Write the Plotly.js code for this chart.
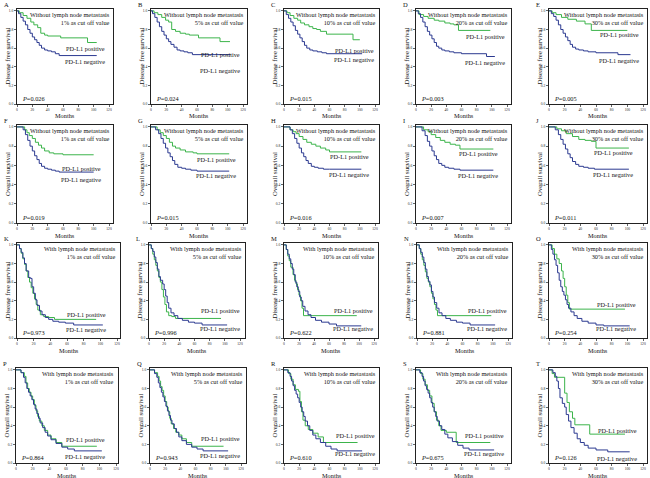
<!DOCTYPE html>
<html>
<head>
<meta charset="utf-8">
<script src="https://cdn.plot.ly/plotly-3.0.1.min.js"></script>
<style>html,body{margin:0;padding:0;background:#fff;}#chart{width:650px;height:478px;}</style>
</head>
<body>
<div id="chart"></div>
<script>
// ---------------- DATA ----------------
const letters = ['A','B','C','D','E','F','G','H','I','J','K','L','M','N','O','P','Q','R','S','T'];
const cutoffs = ['1%','5%','10%','20%','30%'];
const groupLabels = ['Without lymph node metastasis','Without lymph node metastasis','With lymph node metastasis','With lymph node metastasis'];
const yTitles = ['Disease free survival','Overall survival','Disease free survival','Overall survival'];
const xTitle = 'Months';
const pValues = ['0.026','0.024','0.015','0.003','0.005','0.019','0.015','0.016','0.007','0.011','0.973','0.996','0.622','0.881','0.254','0.864','0.943','0.610','0.675','0.126'];
const posLabel = 'PD-L1 positive';
const negLabel = 'PD-L1 negative';
const posLabelY = [0.60,0.53,0.57,0.73,0.75, 0.57,0.66,0.69,0.72,0.73, 0.25,0.29,0.30,0.30,0.36, 0.25,0.26,0.30,0.30,0.35];
const negLabelY = [0.46,0.36,0.48,0.45,0.47, 0.45,0.49,0.50,0.49,0.50, 0.09,0.10,0.10,0.10,0.10, 0.065,0.08,0.10,0.10,0.05];
const xTicks = [0,20,40,60,80,100,120];
const yTicks = [0,0.2,0.4,0.6,0.8,1.0];

// Row 1: disease free survival, without lymph node metastasis
const A_pos_t = [0,3,8,13,18,22,27,31,36,40,57,92,104];
const A_pos_s = [1,0.98,0.95,0.92,0.88,0.85,0.82,0.76,0.74,0.73,0.71,0.66,0.66];
const A_neg_t = [0,2,5,8,11,14,17,20,23,26,29,32,36,40,45,50,55,104];
const A_neg_s = [1,0.97,0.93,0.89,0.85,0.80,0.76,0.72,0.69,0.66,0.63,0.60,0.58,0.57,0.56,0.54,0.52,0.52];
const B_pos_t = [0,4,9,14,19,23,27,32,38,45,50,62,90,103];
const B_pos_s = [1,0.98,0.96,0.93,0.90,0.88,0.80,0.78,0.76,0.75,0.74,0.71,0.67,0.67];
const B_neg_t = [0,2,5,8,11,14,17,20,23,26,30,34,38,43,48,54,104];
const B_neg_s = [1,0.97,0.93,0.88,0.83,0.78,0.74,0.70,0.67,0.64,0.61,0.58,0.57,0.56,0.55,0.53,0.53];
const C_pos_t = [0,4,8,13,18,22,27,33,38,43,48,56,91,100];
const C_pos_s = [1,0.98,0.95,0.92,0.90,0.87,0.85,0.83,0.81,0.80,0.78,0.75,0.69,0.69];
const C_neg_t = [0,3,6,9,12,15,18,21,24,27,30,34,38,44,50,56,103];
const C_neg_s = [1,0.96,0.92,0.88,0.84,0.79,0.75,0.71,0.67,0.63,0.60,0.58,0.57,0.56,0.55,0.54,0.54];
const D_pos_t = [0,4,10,16,24,30,38,45,50,56,98];
const D_pos_s = [1,0.96,0.94,0.92,0.90,0.89,0.87,0.86,0.85,0.79,0.79];
const D_neg_t = [0,3,6,9,12,15,18,21,24,27,30,34,38,44,50,60,93,104];
const D_neg_s = [1,0.97,0.93,0.88,0.83,0.78,0.74,0.70,0.66,0.62,0.60,0.58,0.57,0.56,0.55,0.54,0.51,0.51];
const E_pos_t = [0,4,9,16,24,35,46,54,100];
const E_pos_s = [1,0.98,0.96,0.93,0.91,0.89,0.86,0.79,0.79];
const E_neg_t = [0,3,6,9,12,15,18,21,24,27,30,34,38,44,50,60,88,104];
const E_neg_s = [1,0.97,0.94,0.90,0.85,0.80,0.76,0.72,0.68,0.64,0.61,0.59,0.58,0.57,0.56,0.55,0.53,0.53];

// Row 2: overall survival, without lymph node metastasis
const F_pos_t = [0,10,13,16,20,24,28,32,36,42,48,60,100];
const F_pos_s = [1,0.97,0.94,0.91,0.88,0.84,0.81,0.78,0.75,0.73,0.72,0.71,0.71];
const F_neg_t = [0,8,11,14,17,20,23,26,29,32,36,40,45,50,55,100];
const F_neg_s = [1,0.97,0.92,0.86,0.80,0.75,0.70,0.66,0.62,0.59,0.57,0.56,0.55,0.54,0.53,0.53];
const G_pos_t = [0,8,12,16,20,24,28,32,38,45,55,60,102];
const G_pos_s = [1,0.97,0.94,0.91,0.88,0.84,0.80,0.78,0.76,0.74,0.73,0.72,0.72];
const G_neg_t = [0,6,10,13,16,19,22,25,28,31,35,40,45,52,60,102];
const G_neg_s = [1,0.97,0.93,0.88,0.83,0.78,0.73,0.69,0.65,0.61,0.58,0.57,0.56,0.55,0.54,0.54];
const H_pos_t = [0,8,12,16,20,25,30,36,42,48,55,60,102];
const H_pos_s = [1,0.97,0.95,0.93,0.90,0.87,0.84,0.82,0.80,0.78,0.76,0.74,0.74];
const H_neg_t = [0,8,11,14,17,20,23,26,29,32,36,40,45,52,60,102];
const H_neg_s = [1,0.97,0.93,0.88,0.83,0.78,0.73,0.69,0.65,0.62,0.59,0.58,0.57,0.56,0.56,0.56];
const I_pos_t = [0,10,16,20,26,32,38,45,52,58,102];
const I_pos_s = [1,0.97,0.95,0.92,0.89,0.86,0.84,0.82,0.81,0.77,0.77];
const I_neg_t = [0,8,12,15,18,21,24,27,30,34,38,43,50,58,102];
const I_neg_s = [1,0.96,0.91,0.85,0.80,0.75,0.70,0.66,0.62,0.60,0.58,0.57,0.56,0.55,0.55];
const J_pos_t = [0,10,16,22,30,38,46,54,60,102];
const J_pos_s = [1,0.98,0.96,0.93,0.90,0.87,0.86,0.85,0.78,0.78];
const J_neg_t = [0,8,12,15,18,21,24,27,30,34,38,44,50,58,102];
const J_neg_s = [1,0.97,0.92,0.87,0.82,0.77,0.72,0.68,0.64,0.61,0.59,0.58,0.57,0.56,0.56];

// Row 3: disease free survival, with lymph node metastasis
const K_pos_t = [0,3,5,7,9,11,13,15,17,19,21,23,25,28,32,38,45,95];
const K_pos_s = [1,0.96,0.91,0.85,0.79,0.72,0.65,0.60,0.54,0.48,0.42,0.36,0.30,0.25,0.23,0.22,0.20,0.20];
const K_neg_t = [0,3,5,7,9,11,14,16,18,20,22,24,27,30,34,38,43,50,58,68,103];
const K_neg_s = [1,0.96,0.92,0.86,0.80,0.72,0.65,0.64,0.55,0.48,0.41,0.35,0.29,0.25,0.22,0.20,0.18,0.17,0.16,0.14,0.14];
const L_pos_t = [0,3,5,7,9,11,13,15,17,19,21,23,26,30,35,95];
const L_pos_s = [1,0.96,0.90,0.84,0.78,0.72,0.65,0.60,0.52,0.44,0.36,0.28,0.24,0.23,0.21,0.21];
const L_neg_t = [0,3,5,7,9,11,13,15,18,20,22,24,26,29,33,38,44,52,60,70,103];
const L_neg_s = [1,0.96,0.93,0.87,0.81,0.74,0.66,0.62,0.58,0.52,0.45,0.38,0.32,0.27,0.24,0.21,0.19,0.17,0.16,0.14,0.14];
const M_pos_t = [0,3,5,7,9,12,14,16,18,20,22,24,26,97];
const M_pos_s = [1,0.95,0.88,0.83,0.76,0.68,0.62,0.58,0.52,0.46,0.40,0.32,0.24,0.24];
const M_neg_t = [0,3,5,7,9,11,13,15,17,19,21,23,25,28,32,36,42,50,60,70,103];
const M_neg_s = [1,0.95,0.90,0.85,0.80,0.74,0.68,0.60,0.55,0.50,0.44,0.40,0.34,0.29,0.25,0.22,0.19,0.17,0.15,0.13,0.13];
const N_pos_t = [0,3,5,7,9,11,13,15,17,19,21,23,25,27,98];
const N_pos_s = [1,0.96,0.90,0.84,0.78,0.71,0.64,0.60,0.55,0.48,0.42,0.36,0.30,0.24,0.24];
const N_neg_t = [0,3,5,7,9,11,13,15,17,19,21,23,26,29,33,38,44,52,60,70,103];
const N_neg_s = [1,0.96,0.92,0.87,0.81,0.74,0.66,0.61,0.57,0.50,0.44,0.38,0.32,0.27,0.24,0.21,0.19,0.17,0.16,0.14,0.14];
const O_pos_t = [0,4,7,10,13,16,18,20,22,24,26,97];
const O_pos_s = [1,0.96,0.90,0.85,0.80,0.72,0.64,0.55,0.46,0.38,0.31,0.31];
const O_neg_t = [0,3,5,7,9,11,13,15,17,19,21,23,25,28,32,36,42,50,60,70,103];
const O_neg_s = [1,0.95,0.90,0.84,0.78,0.70,0.62,0.55,0.50,0.46,0.41,0.36,0.32,0.28,0.24,0.21,0.18,0.16,0.14,0.13,0.13];

// Row 4: overall survival, with lymph node metastasis
const P_pos_t = [0,6,10,12,14,16,18,20,22,24,26,28,31,34,38,42,48,55,97];
const P_pos_s = [1,0.97,0.93,0.86,0.80,0.76,0.72,0.68,0.62,0.56,0.50,0.45,0.40,0.35,0.30,0.26,0.22,0.18,0.18];
const P_neg_t = [0,6,9,11,13,15,17,19,21,23,25,27,29,32,35,38,42,48,55,62,70,103];
const P_neg_s = [1,0.97,0.92,0.86,0.80,0.76,0.72,0.68,0.63,0.58,0.53,0.48,0.43,0.38,0.33,0.29,0.25,0.21,0.17,0.15,0.13,0.13];
const Q_pos_t = [0,6,10,12,14,16,18,20,22,24,26,28,31,34,38,42,48,55,97];
const Q_pos_s = [1,0.97,0.93,0.88,0.82,0.78,0.72,0.66,0.60,0.55,0.48,0.42,0.37,0.33,0.30,0.26,0.22,0.18,0.18];
const Q_neg_t = [0,6,9,11,13,15,17,19,21,23,25,27,29,32,35,38,42,48,55,62,70,103];
const Q_neg_s = [1,0.96,0.92,0.86,0.81,0.76,0.71,0.66,0.61,0.56,0.51,0.46,0.42,0.37,0.33,0.28,0.24,0.20,0.17,0.15,0.13,0.13];
const R_pos_t = [0,6,9,12,15,19,21,23,25,28,32,38,45,52,97];
const R_pos_s = [1,0.96,0.90,0.84,0.79,0.77,0.66,0.55,0.46,0.40,0.36,0.32,0.28,0.22,0.22];
const R_neg_t = [0,5,8,10,12,14,16,18,20,22,24,26,28,31,34,38,42,48,55,62,70,103];
const R_neg_s = [1,0.97,0.93,0.88,0.83,0.78,0.74,0.70,0.65,0.60,0.55,0.50,0.45,0.40,0.35,0.30,0.26,0.22,0.18,0.15,0.13,0.13];
const S_pos_t = [0,6,9,12,15,18,21,24,27,30,33,40,53,98];
const S_pos_s = [1,0.96,0.90,0.84,0.78,0.72,0.64,0.55,0.46,0.40,0.35,0.33,0.22,0.22];
const S_neg_t = [0,5,8,10,12,14,16,18,20,22,24,26,28,31,34,38,42,48,55,62,70,103];
const S_neg_s = [1,0.97,0.93,0.88,0.83,0.79,0.75,0.70,0.65,0.60,0.55,0.50,0.45,0.40,0.36,0.31,0.27,0.23,0.19,0.16,0.14,0.14];
const T_pos_t = [0,4,7,20,23,26,30,33,52,97];
const T_pos_s = [1,0.96,0.92,0.75,0.65,0.55,0.48,0.41,0.31,0.31];
const T_neg_t = [0,5,8,10,12,14,17,20,22,25,28,32,36,40,45,50,60,75,103];
const T_neg_s = [1,0.97,0.93,0.88,0.80,0.70,0.64,0.60,0.52,0.45,0.38,0.32,0.26,0.22,0.19,0.16,0.14,0.12,0.12];

// table built from the arrays above
const curves = [
  [A_pos_t,A_pos_s,A_neg_t,A_neg_s],[B_pos_t,B_pos_s,B_neg_t,B_neg_s],[C_pos_t,C_pos_s,C_neg_t,C_neg_s],[D_pos_t,D_pos_s,D_neg_t,D_neg_s],[E_pos_t,E_pos_s,E_neg_t,E_neg_s],
  [F_pos_t,F_pos_s,F_neg_t,F_neg_s],[G_pos_t,G_pos_s,G_neg_t,G_neg_s],[H_pos_t,H_pos_s,H_neg_t,H_neg_s],[I_pos_t,I_pos_s,I_neg_t,I_neg_s],[J_pos_t,J_pos_s,J_neg_t,J_neg_s],
  [K_pos_t,K_pos_s,K_neg_t,K_neg_s],[L_pos_t,L_pos_s,L_neg_t,L_neg_s],[M_pos_t,M_pos_s,M_neg_t,M_neg_s],[N_pos_t,N_pos_s,N_neg_t,N_neg_s],[O_pos_t,O_pos_s,O_neg_t,O_neg_s],
  [P_pos_t,P_pos_s,P_neg_t,P_neg_s],[Q_pos_t,Q_pos_s,Q_neg_t,Q_neg_s],[R_pos_t,R_pos_s,R_neg_t,R_neg_s],[S_pos_t,S_pos_s,S_neg_t,S_neg_s],[T_pos_t,T_pos_s,T_neg_t,T_neg_s]
];

// ---------------- LAYOUT / STYLE ----------------
const W = 650, H = 478;
const px0   = [17,151,284,416,549, 17,151,284,416,549, 17,149,284,417,549, 16,150,284,416,549];
const px120 = [109,243,375,507,643, 109,243,375,507,643, 117,240,374,508,643, 116,241,375,507,643];
const pxR   = [113,247,379,511,647, 113,247,379,511,647, 120,245,378,512,647, 118,246,379,511,647];
const rowTop = [9, 125, 243, 368];
const rowBottom = [104, 223, 338, 463];
const labelRight = [0.94,0.95,0.97,0.96,0.94, 0.90,0.91,0.92,0.88,0.88, 0.88,0.97,0.97,0.97,0.91, 0.89,0.96,0.98,0.95,0.92];
const GREEN = '#3cb44b', BLUE = '#2b3990';
const SERIF = '"Liberation Serif", "Times New Roman", serif';
const TXT = 6.3;

const traces = [];
const layout = {
  width: W, height: H,
  margin: {l: 0, r: 0, t: 0, b: 0},
  paper_bgcolor: '#fff', plot_bgcolor: '#fff',
  showlegend: false,
  font: {family: SERIF, color: '#111'},
  annotations: []
};

for (let k = 0; k < 20; k++) {
  const row = Math.floor(k / 5), col = k % 5;
  const n = k + 1;
  const xa = n === 1 ? 'x' : 'x' + n;
  const ya = n === 1 ? 'y' : 'y' + n;
  const xKey = n === 1 ? 'xaxis' : 'xaxis' + n;
  const yKey = n === 1 ? 'yaxis' : 'yaxis' + n;
  const L = px0[k], R = pxR[k];
  const xMax = 120 * (R - L) / (px120[k] - L);
  const top = rowTop[row], bot = rowBottom[row];

  const axCommon = {
    showline: true, mirror: true, linecolor: '#222', linewidth: 1,
    ticks: 'outside', ticklen: 2, tickwidth: 0.7, tickcolor: '#222',
    showgrid: false, zeroline: false,
    tickfont: {size: 3.6, family: SERIF, color: '#222'},
    fixedrange: true
  };
  layout[xKey] = Object.assign({}, axCommon, {
    domain: [L / W, R / W], anchor: ya, range: [0, xMax],
    tickvals: xTicks, ticktext: xTicks.map(String)
  });
  layout[yKey] = Object.assign({}, axCommon, {
    domain: [1 - bot / H, 1 - top / H], anchor: xa, range: [0, 1.02],
    tickvals: yTicks, ticktext: yTicks.map(v => v.toFixed(1))
  });

  const c = curves[k];
  traces.push({x: c[0], y: c[1], xaxis: xa, yaxis: ya, type: 'scatter', mode: 'lines',
    line: {color: GREEN, width: 1, shape: 'hv'}, hoverinfo: 'skip'});
  traces.push({x: c[2], y: c[3], xaxis: xa, yaxis: ya, type: 'scatter', mode: 'lines',
    line: {color: BLUE, width: 1, shape: 'hv'}, hoverinfo: 'skip'});

  const f = {family: SERIF, size: TXT, color: '#111'};
  const A = layout.annotations;
  A.push({xref: 'paper', yref: 'paper', x: (L - 15) / W, y: 1 - (top - 5) / H,
    xanchor: 'left', yanchor: 'middle', text: letters[k], showarrow: false,
    font: {family: SERIF, size: 6.5, color: '#111'}});
  A.push({xref: xa + ' domain', yref: ya + ' domain', x: 0.985, y: 1.0,
    xanchor: 'right', yanchor: 'top', align: 'right', showarrow: false,
    text: groupLabels[row] + '<br>' + cutoffs[col] + ' as cut off value', font: f});
  A.push({xref: xa + ' domain', yref: ya, x: labelRight[k], y: posLabelY[k], xanchor: 'right', yanchor: 'middle',
    text: posLabel, showarrow: false, font: f});
  A.push({xref: xa + ' domain', yref: ya, x: labelRight[k], y: negLabelY[k], xanchor: 'right', yanchor: 'middle',
    text: negLabel, showarrow: false, font: f});
  A.push({xref: xa, yref: ya, x: 4, y: 0.06, xanchor: 'left', yanchor: 'middle',
    text: '<i>P</i>=' + pValues[k], showarrow: false, font: f});
  A.push({xref: 'paper', yref: 'paper', x: (L + R) / 2 / W, y: 1 - (bot + 12) / H,
    xanchor: 'center', yanchor: 'middle', text: xTitle, showarrow: false, font: f});
  A.push({xref: 'paper', yref: 'paper', x: (L - 10) / W, y: 1 - (top + bot) / 2 / H,
    xanchor: 'center', yanchor: 'middle', textangle: -90, text: yTitles[row], showarrow: false,
    font: {family: SERIF, size: 6.8, color: '#111'}});
}

Plotly.newPlot('chart', traces, layout, {staticPlot: true, displayModeBar: false});
</script>
</body>
</html>
